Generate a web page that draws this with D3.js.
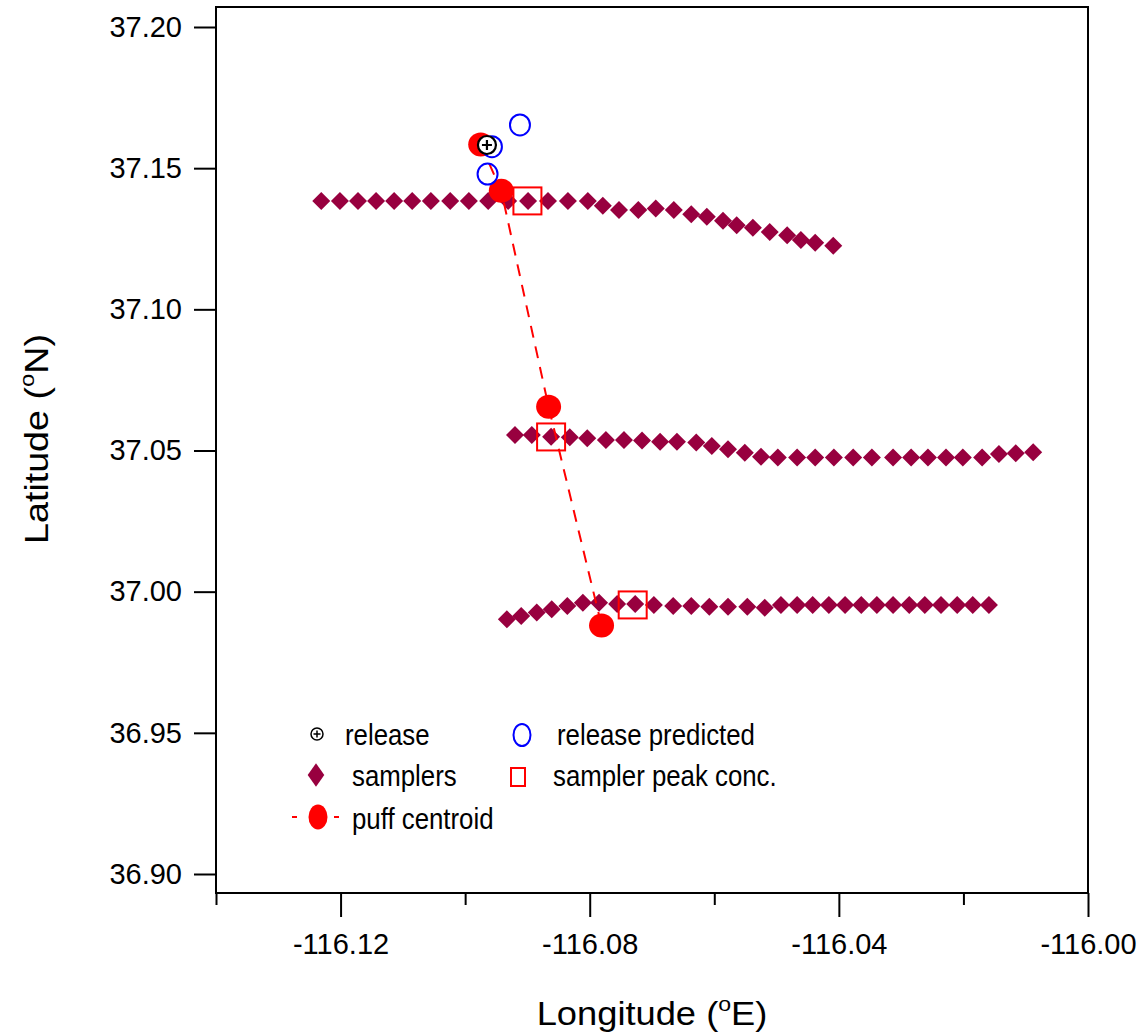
<!DOCTYPE html>
<html>
<head>
<meta charset="utf-8">
<script src="https://cdn.jsdelivr.net/npm/d3@7"></script>
<style>
  body { margin: 0; background: #fff; }
  text { font-family: "Liberation Sans", Arial, sans-serif; fill: #000; }
</style>
</head>
<body>
<div id="chart"></div>
<script>
// sampler lines (lon / lat)
var sampLon1 = [-116.1231, -116.1201, -116.1172, -116.1143, -116.1114, -116.1085, -116.1055, -116.1024, -116.0994, -116.0963,
                -116.0931, -116.0899, -116.0867, -116.0835, -116.0803, -116.0779, -116.0753, -116.0722, -116.0694, -116.0665,
                -116.0637, -116.0612, -116.0586, -116.0564, -116.0538, -116.0511, -116.0483, -116.0461, -116.0438, -116.0409];
var sampLat1 = [37.1384, 37.1384, 37.1384, 37.1384, 37.1384, 37.1384, 37.1384, 37.1384, 37.1384, 37.1384,
                37.1384, 37.1384, 37.1384, 37.1384, 37.1384, 37.1367, 37.1352, 37.1352, 37.1357, 37.1352,
                37.1337, 37.1328, 37.1314, 37.1298, 37.1289, 37.1274, 37.1262, 37.1246, 37.1236, 37.1225];
var sampLon2 = [-116.0920, -116.0893, -116.0862, -116.0832, -116.0804, -116.0774, -116.0745, -116.0716, -116.0687, -116.0660,
                -116.0629, -116.0604, -116.0578, -116.0551, -116.0525, -116.0498, -116.0467, -116.0438, -116.0408, -116.0377,
                -116.0347, -116.0313, -116.0284, -116.0257, -116.0228, -116.0201, -116.0170, -116.0143, -116.0116, -116.0088];
var sampLat2 = [37.0555, 37.0555, 37.0549, 37.0547, 37.0543, 37.0537, 37.0537, 37.0535, 37.0531, 37.0531,
                37.0528, 37.0516, 37.0504, 37.0492, 37.0478, 37.0475, 37.0475, 37.0475, 37.0475, 37.0475,
                37.0475, 37.0475, 37.0475, 37.0475, 37.0475, 37.0475, 37.0475, 37.0488, 37.0490, 37.0494];
var sampLon3 = [-116.0933, -116.0910, -116.0885, -116.0861, -116.0836, -116.0811, -116.0785, -116.0756, -116.0727, -116.0697,
                -116.0666, -116.0637, -116.0608, -116.0578, -116.0547, -116.0519, -116.0493, -116.0467, -116.0442, -116.0416,
                -116.0390, -116.0364, -116.0339, -116.0313, -116.0287, -116.0262, -116.0236, -116.0210, -116.0185, -116.0159];
var sampLat3 = [36.9902, 36.9914, 36.9926, 36.9938, 36.9949, 36.9961, 36.9961, 36.9956, 36.9956, 36.9953,
                36.9949, 36.9949, 36.9947, 36.9947, 36.9947, 36.9943, 36.9953, 36.9953, 36.9953, 36.9953,
                36.9953, 36.9953, 36.9953, 36.9953, 36.9953, 36.9953, 36.9953, 36.9953, 36.9953, 36.9953];

var peakLon = [-116.0900, -116.0862, -116.0731];
var peakLat = [37.1384, 37.0548, 36.9953];

var puffLon = [-116.0975, -116.0942, -116.0866, -116.0781];
var puffLat = [37.1584, 37.1420, 37.0655, 36.9880];

var predLon = [-116.0912, -116.0957, -116.0964];
var predLat = [37.1653, 37.1576, 37.1479];

var releaseLon = [-116.0965];
var releaseLat = [37.1582];

var xMajor = [-116.12, -116.08, -116.04, -116.00];
var xMinor = [-116.14, -116.10, -116.06, -116.02];
var yTicks = [36.90, 36.95, 37.00, 37.05, 37.10, 37.15, 37.20];

var legendLabels = ["release", "release predicted", "samplers", "sampler peak conc.", "puff centroid"];

var samplerColor = "#98003f";

var svg = d3.select("#chart").append("svg")
    .attr("width", 1141)
    .attr("height", 1035);

var x = d3.scaleLinear().domain([-116.14, -116.00]).range([216, 1088]);
var y = d3.scaleLinear().domain([36.90, 37.20]).range([874, 27]);
var frameTop = 7, frameBottom = 893;

function addText(parent, tx, ty, str, size, sx, anchor) {
    return parent.append("text")
        .attr("transform", "translate(" + tx + "," + ty + ") scale(" + sx + ",1)")
        .attr("text-anchor", anchor || "start")
        .style("font-size", size + "px")
        .text(str);
}

// frame
svg.append("rect")
    .attr("x", x(-116.14)).attr("y", frameTop)
    .attr("width", x(-116.00) - x(-116.14))
    .attr("height", frameBottom - frameTop)
    .attr("fill", "none").attr("stroke", "#000").attr("stroke-width", 2);

// y axis
var yAxis = svg.append("g")
    .attr("transform", "translate(" + x(-116.14) + ",0)")
    .call(d3.axisLeft(y).tickValues(yTicks).tickSize(22).tickPadding(12)
          .tickFormat(function(d) { return d.toFixed(2); }));
yAxis.select(".domain").remove();
yAxis.selectAll("line").attr("stroke-width", 2);
yAxis.selectAll("text").style("font-size", "29px").style("font-family", "Liberation Sans, Arial");

// x axis major + minor
var xAxis = svg.append("g")
    .attr("transform", "translate(0," + frameBottom + ")")
    .call(d3.axisBottom(x).tickValues(xMajor).tickSize(24).tickPadding(16)
          .tickFormat(function(d) { return d.toFixed(2); }));
xAxis.select(".domain").remove();
xAxis.selectAll("line").attr("stroke-width", 2);
xAxis.selectAll("text").style("font-size", "29px").style("font-family", "Liberation Sans, Arial");

var xMinorAxis = svg.append("g")
    .attr("transform", "translate(0," + frameBottom + ")")
    .call(d3.axisBottom(x).tickValues(xMinor).tickSize(12).tickFormat(""));
xMinorAxis.select(".domain").remove();
xMinorAxis.selectAll("line").attr("stroke-width", 2);

// axis titles
var xt = svg.append("text")
    .attr("transform", "translate(652,1025) scale(1.1,1)")
    .attr("text-anchor", "middle")
    .style("font-size", "33px");
xt.append("tspan").text("Longitude (");
xt.append("tspan").attr("dy", -14).style("font-size", "21px").text("o");
xt.append("tspan").attr("dy", 14).text("E)");

var yt = svg.append("text")
    .attr("transform", "translate(48,439) rotate(-90) scale(1.14,1)")
    .attr("text-anchor", "middle")
    .style("font-size", "33px");
yt.append("tspan").text("Latitude (");
yt.append("tspan").attr("dy", -14).style("font-size", "21px").text("o");
yt.append("tspan").attr("dy", 14).text("N)");

// samplers
var samplers = [];
[[sampLon1, sampLat1], [sampLon2, sampLat2], [sampLon3, sampLat3]].forEach(function(s) {
    s[0].forEach(function(lon, i) { samplers.push({lon: lon, lat: s[1][i]}); });
});
function diamond(hw, hh) {
    return "M0," + (-hh) + "L" + hw + ",0L0," + hh + "L" + (-hw) + ",0Z";
}
svg.append("g").selectAll("path")
    .data(samplers)
    .enter().append("path")
    .attr("d", diamond(9, 9))
    .attr("transform", function(d) { return "translate(" + x(d.lon) + "," + y(d.lat) + ")"; })
    .attr("fill", samplerColor);

// peak squares
svg.append("g").selectAll("rect")
    .data(peakLon)
    .enter().append("rect")
    .attr("x", function(d) { return x(d) - 14; })
    .attr("y", function(d, i) { return y(peakLat[i]) - 13.5; })
    .attr("width", 28).attr("height", 27)
    .attr("fill", "none").attr("stroke", "#ff0000").attr("stroke-width", 2);

// puff centroid path
var puff = puffLon.map(function(d, i) { return {lon: d, lat: puffLat[i]}; });
svg.append("path")
    .datum(puff)
    .attr("d", d3.line().x(function(d) { return x(d.lon); }).y(function(d) { return y(d.lat); }))
    .attr("fill", "none").attr("stroke", "#ff0000").attr("stroke-width", 2)
    .attr("stroke-dasharray", "12,9");

svg.append("g").selectAll("ellipse")
    .data(puff)
    .enter().append("ellipse")
    .attr("cx", function(d) { return x(d.lon); })
    .attr("cy", function(d) { return y(d.lat); })
    .attr("rx", 12.5).attr("ry", 12)
    .attr("fill", "#ff0000");

// predicted release
svg.append("g").selectAll("ellipse")
    .data(predLon)
    .enter().append("ellipse")
    .attr("cx", function(d) { return x(d); })
    .attr("cy", function(d, i) { return y(predLat[i]); })
    .attr("rx", 10).attr("ry", 10.5)
    .attr("fill", "none").attr("stroke", "#0000ff").attr("stroke-width", 2);

// release
function releaseMark(g, cx, cy, r, arm, sw) {
    g.append("circle").attr("cx", cx).attr("cy", cy).attr("r", r)
        .attr("fill", "#fff").attr("stroke", "#000").attr("stroke-width", sw);
    g.append("path")
        .attr("d", "M" + (cx - arm) + "," + cy + "H" + (cx + arm) + "M" + cx + "," + (cy - arm) + "V" + (cy + arm))
        .attr("stroke", "#000").attr("stroke-width", sw);
}
releaseLon.forEach(function(d, i) {
    releaseMark(svg.append("g"), x(d), y(releaseLat[i]), 9, 5, 2.2);
});

// legend
var lg = svg.append("g");
releaseMark(lg, 317, 734, 6, 3.5, 1.5);
addText(lg, 345, 745, legendLabels[0], 29, 0.89);
lg.append("ellipse").attr("cx", 522).attr("cy", 735).attr("rx", 8.5).attr("ry", 11)
    .attr("fill", "none").attr("stroke", "#0000ff").attr("stroke-width", 2);
addText(lg, 557, 745, legendLabels[1], 29, 0.89);
lg.append("path").attr("d", diamond(8.3, 11.7)).attr("transform", "translate(316,775)").attr("fill", samplerColor);
addText(lg, 352, 786, legendLabels[2], 29, 0.89);
lg.append("rect").attr("x", 511).attr("y", 768).attr("width", 14).attr("height", 18)
    .attr("fill", "none").attr("stroke", "#ff0000").attr("stroke-width", 2);
addText(lg, 553, 786, legendLabels[3], 29, 0.89);
lg.append("path").attr("d", "M292,817H297M334,817H339").attr("stroke", "#ff0000").attr("stroke-width", 2);
lg.append("ellipse").attr("cx", 318).attr("cy", 817).attr("rx", 9.5).attr("ry", 12.5).attr("fill", "#ff0000");
addText(lg, 352, 829, legendLabels[4], 29, 0.89);
</script>
</body>
</html>
